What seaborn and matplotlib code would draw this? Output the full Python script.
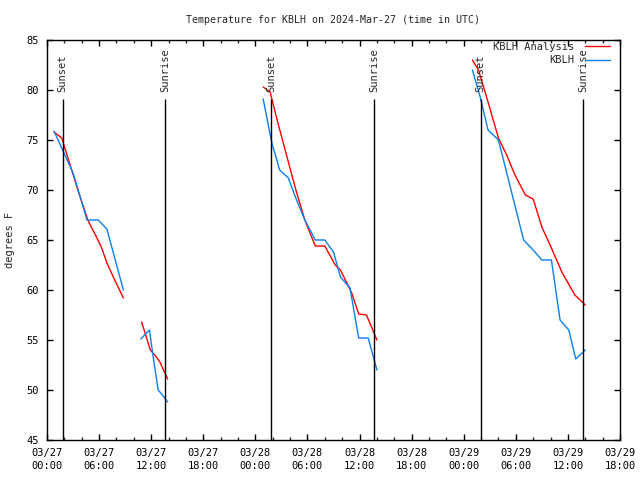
import matplotlib
matplotlib.use("Agg")
import matplotlib.pyplot as plt
import matplotlib.dates as mdates
import seaborn as sns
import pandas as pd

# --- Data (hours after 2024-03-27 00:00 UTC, temperature in F)
START = pd.Timestamp("2024-03-27 00:00")

analysis_hours = [0.8, 1.7, 2.7, 3.7, 4.7, 5.1, 5.7, 6.3, 6.9, 7.8, 8.8,
                  10.9, 11.9, 12.6, 13.0, 13.9,
                  24.9, 25.7, 26.6, 27.8, 28.7, 29.7, 30.9, 32.0, 33.2, 33.8, 35.1, 35.9, 36.8, 38.0,
                  49.0, 49.7, 50.8, 52.0, 53.0, 53.9, 55.1, 56.0, 57.0, 58.1, 59.3, 60.8, 62.0]
analysis_temp = [75.8, 75.2, 72.4, 69.6, 67.0, 66.3, 65.3, 64.2, 62.7, 61.0, 59.2,
                 56.8, 54.0, 53.3, 52.8, 51.1,
                 80.3, 79.8, 76.7, 72.8, 69.9, 67.0, 64.4, 64.4, 62.5, 62.0, 59.7, 57.6, 57.5, 55.0,
                 83.0, 82.0, 78.8, 75.2, 73.4, 71.5, 69.5, 69.1, 66.3, 64.2, 61.8, 59.5, 58.5]

obs_hours = [0.8, 1.8, 3.0, 3.8, 4.6, 5.9, 6.9, 7.8, 8.8,
             10.8, 11.8, 12.2, 12.8, 13.2, 13.9,
             24.9, 25.9, 26.8, 27.8, 28.7, 29.7, 30.9, 32.0, 33.0, 33.8, 34.4, 34.9, 35.9, 37.0, 38.0,
             49.0, 49.9, 50.8, 52.0, 53.1, 54.0, 54.9, 56.0, 57.0, 58.1, 59.1, 60.1, 60.9, 62.0]
obs_temp = [75.9, 74.0, 71.7, 69.4, 67.0, 67.0, 66.1, 63.2, 60.0,
            55.1, 56.0, 53.5, 50.0, 49.6, 48.8,
            79.1, 74.7, 72.0, 71.2, 69.1, 67.0, 65.0, 65.0, 63.8, 61.3, 60.7, 60.2, 55.2, 55.2, 52.0,
            82.0, 79.3, 76.0, 75.0, 71.2, 68.1, 65.0, 64.0, 63.0, 63.0, 57.0, 56.0, 53.1, 54.0]

sun_hours = [1.8, 13.6, 25.85, 37.7, 49.95, 61.75]
sun_labels = ['Sunset', 'Sunrise', 'Sunset', 'Sunrise', 'Sunset', 'Sunrise']


def make_frame(hours, temps, name):
    df = pd.DataFrame({'hours': hours, 'temp': temps})
    df['time'] = START + pd.to_timedelta(df['hours'], unit='h')
    # a new segment starts after each data gap
    df['segment'] = (df['hours'].diff() > 1.5).cumsum()
    df['series'] = name
    return df


df = pd.concat([make_frame(analysis_hours, analysis_temp, 'KBLH Analysis'),
                make_frame(obs_hours, obs_temp, 'KBLH')], ignore_index=True)

# --- General Plot Settings
sns.set_style("ticks")
plt.rcParams['font.family'] = ['DejaVu Sans Mono']
plt.rcParams['font.size'] = 7.5
plt.rcParams['xtick.direction'] = 'in'
plt.rcParams['ytick.direction'] = 'in'

fig = plt.figure(figsize=(6.4, 4.8), dpi=100)
ax = fig.add_axes([47 / 640, 40 / 480, 573 / 640, 400 / 480])

sns.lineplot(data=df, x='time', y='temp', hue='series', units='segment',
             estimator=None, hue_order=['KBLH Analysis', 'KBLH'],
             palette={'KBLH Analysis': '#ff0000', 'KBLH': '#0a80f0'},
             linewidth=1.0, ax=ax)

# sunset / sunrise markers
sun_times = [START + pd.Timedelta(hours=h) for h in sun_hours]
ax.vlines(sun_times, 45, 79.1, color='black', linewidth=1.0)
for t, lab in zip(sun_times, sun_labels):
    ax.text(t, 79.8, lab, rotation=90, ha='center', va='bottom', fontsize=7.5)

#  Axes
ax.set_xlim(START, START + pd.Timedelta(hours=66))
ax.set_ylim(45, 85)
ax.set_yticks(range(45, 86, 5))
ax.xaxis.set_major_locator(mdates.HourLocator(byhour=[0, 6, 12, 18]))
ax.xaxis.set_minor_locator(mdates.HourLocator(interval=2))
ax.xaxis.set_major_formatter(mdates.DateFormatter('%m/%d\n%H:%M'))
ax.tick_params(which='major', length=4, width=1, top=True, right=True, pad=6, colors='black')
ax.tick_params(which='minor', length=2, width=1, top=True, right=True)
for spine in ax.spines.values():
    spine.set_visible(True)
    spine.set_color('black')
    spine.set_linewidth(1.0)

#  Titles and labels
ax.set_title('Temperature for KBLH on 2024-Mar-27 (time in UTC)', fontsize=7.2, pad=12)
ax.set_xlabel('')
ax.set_ylabel('degrees F', fontsize=7.5)
ax.yaxis.set_label_coords(-0.056, 0.5)

handles, labels = ax.get_legend_handles_labels()
ax.legend(handles, labels, loc='upper right', bbox_to_anchor=(0.9825, 0.996),
          frameon=False, markerfirst=False,
          handlelength=2.4, handletextpad=1.05, borderaxespad=0.0, borderpad=0.0,
          labelspacing=0.35, fontsize=7.5)

for lab in ax.get_xticklabels():
    lab.set_linespacing(1.35)

fig.savefig('out.png', dpi=100)
plt.close(fig)
